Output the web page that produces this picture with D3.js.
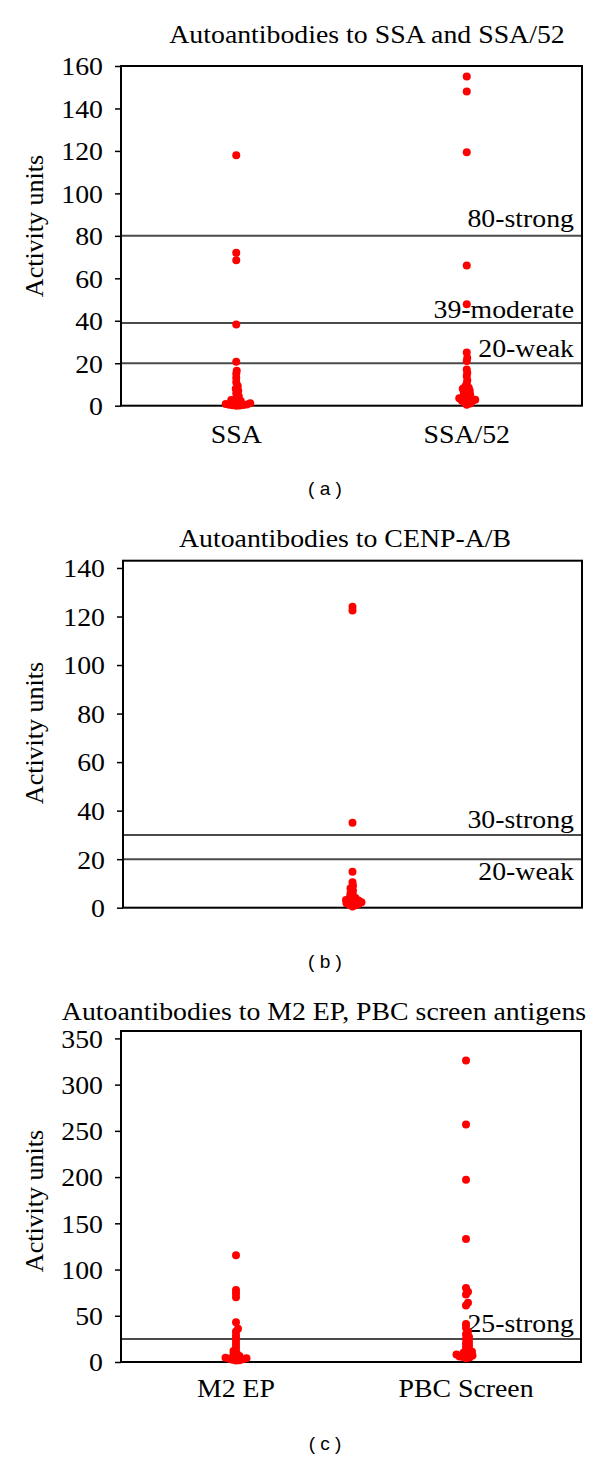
<!DOCTYPE html>
<html><head><meta charset="utf-8">
<script src="https://cdn.jsdelivr.net/npm/d3@7"></script>
<style>body{margin:0;background:#fff}</style>
</head><body>
<svg id="chart" width="600" height="1458"></svg>
<script>
// ---------------- DATA ----------------
const titleA = "Autoantibodies to SSA and SSA/52";
const categoriesA = ["SSA", "SSA/52"];
const ssaValues = [118, 72, 68.5, 38.3, 20.7, 16.5, 15, 13, 11, 9.3, 8, 7, 5.8, 4.5, 3.5, 2.7, 2.2, 1.8, 1.4, 1.1, 0.8, 0.6, 0.4, 0.3, 0.2, 0.1, 0];
const ssa52Values = [155, 148, 119.4, 66, 47.8, 25, 22.5, 21, 17, 15.5, 14, 12, 10.5, 9, 8.5, 8, 7.5, 7, 6.5, 6, 5, 4.5, 4, 3.5, 3.2, 3, 2.8, 2.5, 2.2, 2, 1.5, 1, 0.5];
const ticksA = [0, 20, 40, 60, 80, 100, 120, 140, 160];
const thresholdsA = [80, 39, 20];
const thresholdLabelsA = ["80-strong", "39-moderate", "20-weak"];

const titleB = "Autoantibodies to CENP-A/B";
const categoriesB = ["CENP-A/B"];
const cenpValues = [124, 122.5, 35, 14.8, 10.5, 9, 8, 7, 6, 5, 4.5, 4, 3.5, 3.2, 3, 2.8, 2.5, 2.2, 2, 1.8, 1.5, 1.2, 1, 0.5];
const ticksB = [0, 20, 40, 60, 80, 100, 120, 140];
const thresholdsB = [30, 20];
const thresholdLabelsB = ["30-strong", "20-weak"];

const titleC = "Autoantibodies to M2 EP, PBC screen antigens";
const categoriesC = ["M2 EP", "PBC Screen"];
const m2epValues = [115.5, 78, 74, 70, 43, 36, 33, 29, 25.5, 22, 18.5, 15, 12, 10, 8, 6.5, 5.5, 4.5, 4, 3.5, 3, 2.5, 2, 1.5];
const pbcValues = [326, 257, 197, 133, 80, 76, 73, 64, 61, 41, 37, 33, 30, 27, 25, 22, 20, 18, 16, 14, 12.5, 11, 10, 9, 8, 7.5, 7, 6, 5.5, 5, 4];
const ticksC = [0, 50, 100, 150, 200, 250, 300, 350];
const thresholdsC = [25];
const thresholdLabelsC = ["25-strong"];

const yAxisTitle = "Activity units";
const panelTags = ["( a )", "( b )", "( c )"];

// ---------------- LAYOUT ----------------
const SERIF = "'Liberation Serif','Times New Roman',serif";
const SANS = "'Liberation Sans',Arial,sans-serif";
const FS = 26, SX = 1.07;

const panels = [
  {title: titleA, cats: categoriesA, series: [ssaValues, ssa52Values], ticks: ticksA, yMax: 160,
   thr: thresholdsA, thrLab: thresholdLabelsA, showCats: true,
   L: {left: 121, right: 582, top: 66, bottom: 405.7, titleX: 367, titleY: 43, axisTitleY: 226, catY: 443, tagY: 495, labDy: [-9, -5, -6]}},
  {title: titleB, cats: categoriesB, series: [cenpValues], ticks: ticksB, yMax: 143,
   thr: thresholdsB, thrLab: thresholdLabelsB, showCats: false,
   L: {left: 123, right: 582, top: 560.7, bottom: 907.7, titleX: 345, titleY: 547, axisTitleY: 733, catY: 0, tagY: 968, labDy: [-7, 21]}},
  {title: titleC, cats: categoriesC, series: [m2epValues, pbcValues], ticks: ticksC, yMax: 358,
   thr: thresholdsC, thrLab: thresholdLabelsC, showCats: true,
   L: {left: 121, right: 581, top: 1031, bottom: 1362, titleX: 324, titleY: 1020, axisTitleY: 1201, catY: 1397, tagY: 1450, labDy: [-7]}}
];

const svg = d3.select("#chart");

function text(g, x, y, s, opt = {}) {
  return g.append("text")
    .attr("transform", `translate(${x},${y}) scale(${opt.sx ?? SX},1)` + (opt.rot ? ` rotate(${opt.rot})` : ""))
    .attr("text-anchor", opt.anchor || "middle")
    .attr("font-family", opt.family || SERIF)
    .attr("font-size", opt.size || FS)
    .attr("fill", "#000")
    .text(s);
}

// simple beeswarm: offset each point horizontally so centres are at least d apart
function swarm(values, yScale, cx, d) {
  const pts = values.map(v => ({v, y: yScale(v)})).sort((a, b) => b.y - a.y);
  const placed = [];
  for (const p of pts) {
    for (let k = 0; k < 400; k++) {
      const off = (k % 2 === 1 ? 1 : -1) * Math.ceil(k / 2) * 0.5;
      const x = cx + off;
      let ok = true;
      for (const q of placed) {
        const dx = x - q.x, dy = p.y - q.y;
        if (dx * dx + dy * dy < d * d - 1e-6) { ok = false; break; }
      }
      if (ok) { p.x = x; break; }
    }
    placed.push(p);
  }
  return placed;
}

panels.forEach((P, i) => {
  const L = P.L;
  const g = svg.append("g");
  const y = d3.scaleLinear().domain([0, P.yMax]).range([L.bottom, L.top]);
  const x = d3.scalePoint().domain(P.cats).range([L.left, L.right]).padding(0.5);

  // threshold lines
  P.thr.forEach((t, j) => {
    g.append("line").attr("x1", L.left).attr("x2", L.right)
      .attr("y1", y(t)).attr("y2", y(t))
      .attr("stroke", "#4a4a4a").attr("stroke-width", 2);
    text(g, 574, y(t) + L.labDy[j], P.thrLab[j], {anchor: "end"});
  });

  // frame
  g.append("rect").attr("x", L.left).attr("y", L.top)
    .attr("width", L.right - L.left).attr("height", L.bottom - L.top)
    .attr("fill", "none").attr("stroke", "#000").attr("stroke-width", 2);

  // y axis
  const ax = g.append("g").attr("transform", `translate(${L.left},0)`)
    .call(d3.axisLeft(y).tickValues(P.ticks).tickSize(6).tickFormat(d3.format("d")));
  ax.select(".domain").remove();
  ax.selectAll(".tick line").attr("stroke", "#000").attr("stroke-width", 1.5);
  ax.selectAll(".tick text")
    .attr("font-family", SERIF).attr("font-size", FS).attr("fill", "#000")
    .attr("x", -18 / SX).attr("dy", "0.34em")
    .attr("transform", `scale(${SX},1)`);

  // axis title
  text(g, 43, L.axisTitleY, yAxisTitle, {sx: 1, rot: -90});

  // chart title
  text(g, L.titleX, L.titleY, P.title);

  // category labels
  if (P.showCats) {
    P.cats.forEach(c => text(g, x(c), L.catY, c));
  }

  // panel tag
  text(g, 325, L.tagY, panelTags[i], {family: SANS, size: 19, sx: 1});

  // dots
  P.series.forEach((vals, s) => {
    const pts = swarm(vals, y, x(P.cats[s]), 3.2);
    g.append("g").selectAll("circle").data(pts).join("circle")
      .attr("cx", d => d.x).attr("cy", d => d.y).attr("r", 4)
      .attr("fill", "#ff0000");
  });
});
</script>
</body></html>
